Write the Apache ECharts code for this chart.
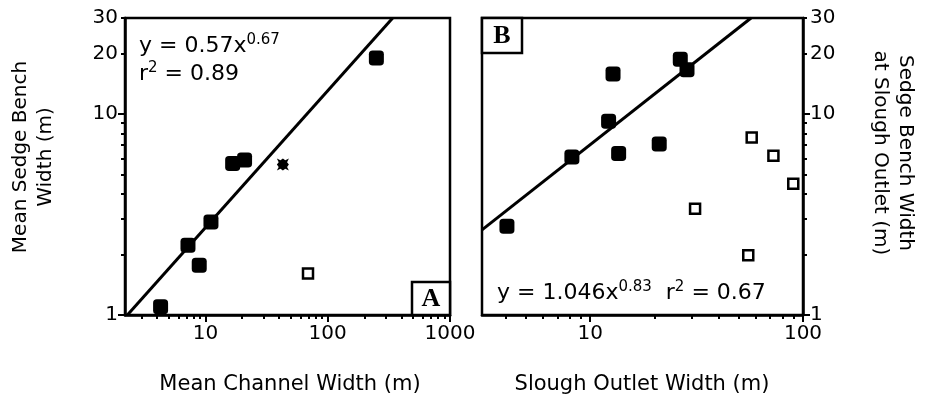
<!DOCTYPE html>
<html>
<head>
<meta charset="utf-8">
<script src="https://cdn.jsdelivr.net/npm/echarts@6/dist/echarts.min.js"></script>
<style>html,body{margin:0;padding:0;background:#fff}#c{width:928px;height:400px}</style>
</head>
<body>
<div id="c"></div>
<script>
// Panel A data
const aFilledX = [4.3, 7.2, 8.9, 11.1, 16.7, 20.9, 250];
const aFilledY = [1.1, 2.22, 1.77, 2.9, 5.67, 5.9, 19];
const aOpenX = [69];
const aOpenY = [1.61];
const aStarX = [43];
const aStarY = [5.6];
const aLineX = [2.3, 340];
const aLineY = [1, 30];
// Panel B data
const bFilledX = [4.06, 8.2, 12.2, 12.8, 13.6, 21.1, 26.5, 28.5];
const bFilledY = [2.76, 6.1, 9.2, 15.8, 6.36, 7.08, 18.7, 16.6];
const bOpenX = [57.4, 72.6, 90, 31.1, 55.3];
const bOpenY = [7.63, 6.2, 4.49, 3.38, 1.98];
const bLineX = [3.1, 57];
const bLineY = [2.65, 30];
// Ticks
const yLabels = [1, 10, 20, 30];
const yMajor = [1, 10];
const yMinor = [2, 3, 4, 5, 6, 7, 8, 9, 20, 30];
const aXLabels = [10, 100, 1000];
const aXMajor = [10, 100, 1000];
const aXMinor = [3, 4, 5, 6, 7, 8, 9, 20, 30, 40, 50, 60, 70, 80, 90, 200, 300, 400, 500, 600, 700, 800, 900];
const bXLabels = [10, 100];
const bXMajor = [10, 100];
const bXMinor = [4, 5, 6, 7, 8, 9, 20, 30, 40, 50, 60, 70, 80, 90];

const zip = (xs, ys) => xs.map((x, i) => [x, ys[i]]);
const FONT = 'DejaVu Sans';
const black = '#000';

const gA = {left: 125, top: 18, width: 325, height: 297};
const gB = {left: 482, top: 18, width: 321, height: 297};

function grid(g, show) {
  return Object.assign({}, g, {show: show, borderColor: black, borderWidth: 2.5, backgroundColor: 'transparent', containLabel: false});
}
const fmt = v => String(Math.round(v));

function xAxis(gi, min, max, labels, ticks, len, showLabel) {
  return {
    type: 'log', logBase: 10, gridIndex: gi, min: min, max: max, position: 'bottom',
    axisLine: {show: showLabel, lineStyle: {color: black, width: 2.5}},
    axisTick: {show: true, customValues: ticks, length: len, lineStyle: {color: black, width: 2}},
    axisLabel: {show: showLabel, customValues: labels, formatter: fmt, color: black, fontFamily: FONT, fontSize: 20, margin: 9},
    splitLine: {show: false}, minorTick: {show: false}
  };
}
function yAxis(gi, pos, labels, ticks, len, showLabel) {
  return {
    type: 'log', logBase: 10, gridIndex: gi, min: 1, max: 30, position: pos,
    axisLine: {show: showLabel, lineStyle: {color: black, width: 2.5}},
    axisTick: {show: true, customValues: ticks, length: len, lineStyle: {color: black, width: 2}},
    axisLabel: {show: showLabel, customValues: labels, formatter: fmt, color: black, fontFamily: FONT, fontSize: 20, margin: 7},
    splitLine: {show: false}, minorTick: {show: false}
  };
}

const filledSym = {symbol: 'roundRect', symbolSize: 15, itemStyle: {color: black, opacity: 1}};
const openSym = {symbol: 'rect', symbolSize: 10, itemStyle: {color: '#fff', borderColor: black, borderWidth: 2.5, opacity: 1}};
const starPath = 'path://M0,0 L3,1.5 L5,0 L7,1.5 L10,0 L8.5,3 L10,5 L8.5,7 L10,10 L7,8.5 L5,10 L3,8.5 L0,10 L1.5,7 L0,5 L1.5,3 Z';

function scatter(xi, data, sym, z) {
  return Object.assign({type: 'scatter', xAxisIndex: xi, yAxisIndex: xi, data: data, silent: true, z: z || 3}, sym);
}
function line(xi, data) {
  return {type: 'line', xAxisIndex: xi, yAxisIndex: xi, data: data, symbol: 'none', silent: true,
    lineStyle: {color: black, width: 3}, z: 2};
}

const txt = (x, y, rich, text) => ({
  type: 'text', x: x, y: y, silent: true,
  style: {text: text, rich: rich, fill: black, font: '22px ' + FONT}
});

const eqRich = {
  m: {fontSize: 22, fontFamily: FONT, lineHeight: 26, fill: black},
  s: {fontSize: 15, fontFamily: FONT, lineHeight: 8, verticalAlign: 'top', fill: black}
};

const option = {
  animation: false,
  backgroundColor: '#fff',
  grid: [grid(gA, true), grid(gA, false), grid(gB, true), grid(gB, false)],
  xAxis: [
    xAxis(0, 2.2, 1000, aXLabels, aXMajor, 7, true),
    xAxis(1, 2.2, 1000, [], aXMinor, 4, false),
    xAxis(2, 3.1, 100, bXLabels, bXMajor, 7, true),
    xAxis(3, 3.1, 100, [], bXMinor, 4, false)
  ],
  yAxis: [
    yAxis(0, 'left', yLabels, yMajor, 7, true),
    yAxis(1, 'left', [], yMinor, 4, false),
    yAxis(2, 'right', yLabels, yMajor, 7, true),
    yAxis(3, 'right', [], yMinor, 4, false)
  ],
  series: [
    line(0, zip(aLineX, aLineY)),
    scatter(0, zip(aFilledX, aFilledY), filledSym),
    scatter(0, zip(aOpenX, aOpenY), openSym),
    scatter(0, zip(aStarX, aStarY), {symbol: starPath, symbolSize: 12, itemStyle: {color: black, opacity: 1}}),
    line(2, zip(bLineX, bLineY)),
    scatter(2, zip(bFilledX, bFilledY), filledSym),
    scatter(2, zip(bOpenX, bOpenY), openSym)
  ],
  graphic: [
    // Axis titles
    {type: 'text', x: 290, y: 374, silent: true, style: {text: 'Mean Channel Width (m)', font: '21px ' + FONT, fill: black, align: 'center', verticalAlign: 'top'}},
    {type: 'text', x: 642, y: 374, silent: true, style: {text: 'Slough Outlet Width (m)', font: '21px ' + FONT, fill: black, align: 'center', verticalAlign: 'top'}},
    {type: 'text', x: 33, y: 157, rotation: Math.PI / 2, silent: true, style: {text: 'Mean Sedge Bench\nWidth (m)', font: '20px ' + FONT, lineHeight: 25, fill: black, align: 'center', verticalAlign: 'middle'}},
    {type: 'text', x: 893, y: 153, rotation: -Math.PI / 2, silent: true, style: {text: 'Sedge Bench Width\nat Slough Outlet (m)', font: '20px ' + FONT, lineHeight: 25, fill: black, align: 'center', verticalAlign: 'middle'}},
    // Equations
    txt(139, 33, eqRich, '{m|y = 0.57x}{s|0.67}'),
    txt(139, 61, eqRich, '{m|r}{s|2}{m| = 0.89}'),
    txt(497, 280, eqRich, '{m|y = 1.046x}{s|0.83}{m|  r}{s|2}{m| = 0.67}'),
    // Panel labels
    {type: 'rect', shape: {x: 412, y: 282, width: 38, height: 33}, silent: true, style: {fill: '#fff', stroke: black, lineWidth: 2.5}, z: 10},
    {type: 'text', x: 431, y: 299, silent: true, z: 11, style: {text: 'A', font: 'bold 26px Liberation Serif', fill: black, align: 'center', verticalAlign: 'middle'}},
    {type: 'rect', shape: {x: 482, y: 18, width: 40, height: 35}, silent: true, style: {fill: '#fff', stroke: black, lineWidth: 2.5}, z: 10},
    {type: 'text', x: 502, y: 36, silent: true, z: 11, style: {text: 'B', font: 'bold 26px Liberation Serif', fill: black, align: 'center', verticalAlign: 'middle'}}
  ]
};
const chart = echarts.init(document.getElementById('c'), null, {renderer: 'canvas'});
chart.setOption(option);
</script>
</body>
</html>
